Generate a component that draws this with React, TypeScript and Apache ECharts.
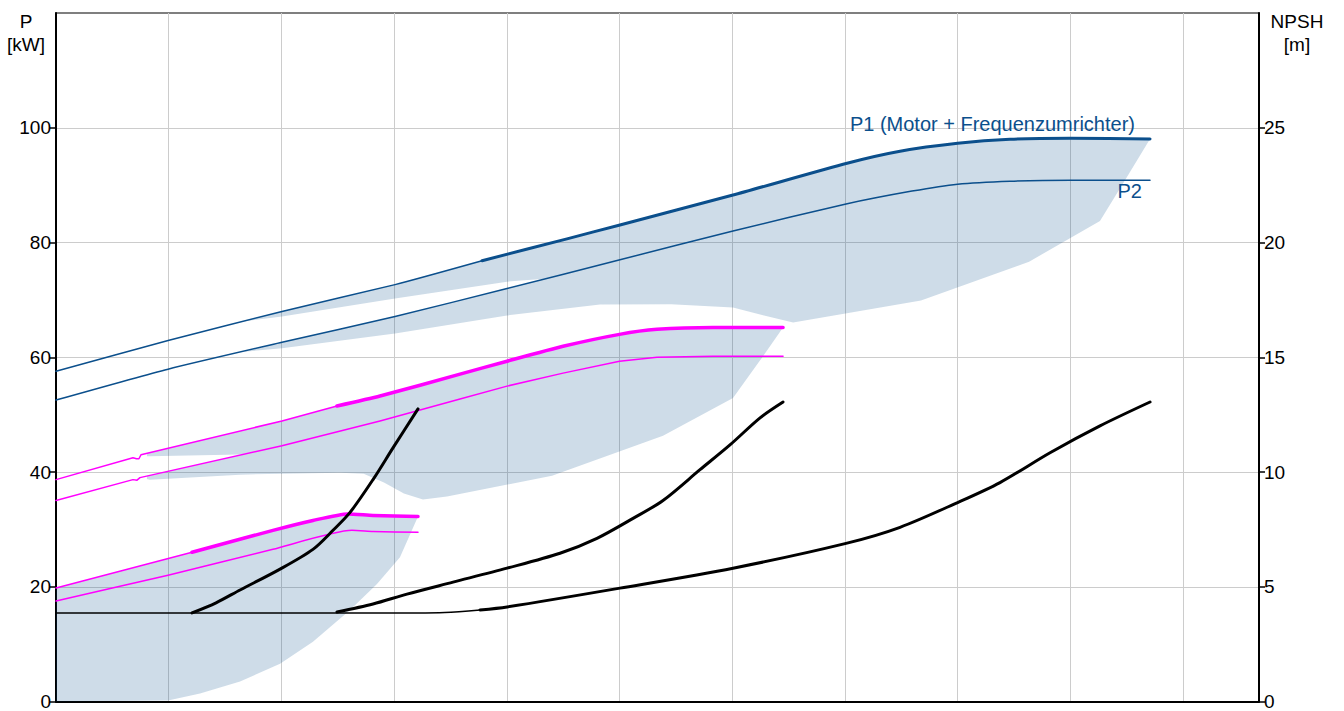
import React, { useEffect, useRef } from "react";
import * as echarts from "echarts";

type Pt = [number, number];

// Flow axis: no labels in the reference, one grid division = 1 unit
const Q_MAX = 10.674;
const Q_INTERVAL = 1;

const pTicks = [0, 20, 40, 60, 80, 100];
const npshTicks = [0, 5, 10, 15, 20, 25];

// ---- Power, full speed (blue) ----
const p1Full: Pt[] = [
  [0, 57.57], [1.003, 62.95], [2.005, 67.98], [3.008, 72.66], [3.78, 76.82],
  [4.534, 80.64], [5.004, 83.06], [6.007, 88.27], [7.019, 93.81], [7.489, 95.9],
  [8.0, 97.28], [8.465, 97.98], [9.0, 98.15], [9.707, 98.06],
];
const p1FullOpStart = 3.78;
const p2Full: Pt[] = [
  [0, 52.54], [0.994, 57.92], [2.005, 62.6], [3.008, 67.11], [4.002, 71.97],
  [5.004, 76.99], [6.007, 82.02], [7.01, 86.71], [7.595, 88.96], [8.0, 90.17],
  [8.465, 90.69], [9.0, 90.87], [9.707, 90.87],
];

// ---- Power, middle speed (magenta) ----
const p1Mid: Pt[] = [
  [0, 38.67], [0.683, 42.49], [0.714, 42.31], [0.736, 42.31], [0.754, 43.01],
  [2.005, 48.9], [2.493, 51.5], [2.875, 53.24], [3.585, 57.05], [4.002, 59.31],
  [4.499, 61.91], [5.0, 63.99], [5.333, 64.86], [5.83, 65.2], [6.451, 65.2],
];
const p1MidOpStart = 2.493;
const p2Mid: Pt[] = [
  [0, 35.03], [0.683, 38.67], [0.719, 38.58], [0.745, 39.02], [2.005, 44.57],
  [2.875, 48.9], [3.585, 52.72], [4.002, 54.97], [4.499, 57.23], [5.0, 59.31],
  [5.333, 60.0], [5.83, 60.17], [6.451, 60.17],
];

// ---- Power, low speed (magenta) ----
const p1Low: Pt[] = [
  [0, 19.77], [1.207, 26.01], [1.925, 29.83], [2.28, 31.56], [2.591, 32.69],
  [2.813, 32.43], [3.212, 32.25],
];
const p1LowOpStart = 1.207;
const p2Low: Pt[] = [
  [0, 17.51], [0.994, 22.02], [1.925, 26.53], [2.626, 29.83], [2.813, 29.65],
  [3.212, 29.48],
];

// ---- NPSH (right axis) ----
const npshLow: Pt[] = [
  [0, 3.86], [1.207, 3.86], [1.42, 4.3], [1.633, 4.86], [1.988, 5.77], [2.28, 6.63],
  [2.458, 7.46], [2.609, 8.24], [2.813, 9.67], [2.99, 11.05], [3.212, 12.75],
];
const npshMid: Pt[] = [
  [0, 3.86], [2.3, 3.86], [2.493, 3.9], [2.813, 4.25], [3.114, 4.68], [3.523, 5.2],
  [4.002, 5.81], [4.472, 6.46], [4.8, 7.11], [5.12, 7.98], [5.386, 8.76], [5.714, 10.1],
  [5.98, 11.18], [6.247, 12.36], [6.451, 13.05],
];
const npshFull: Pt[] = [
  [0, 3.86], [3.2, 3.86], [3.45, 3.88], [3.762, 3.99], [4.002, 4.12], [5.004, 4.94],
  [6.007, 5.81], [7.01, 6.89], [7.489, 7.59], [8.0, 8.67], [8.376, 9.54],
  [8.82, 10.84], [9.263, 12.01], [9.707, 13.05],
];
const npshFullOpStart = 3.762;

// ---- Shaded operating ranges (P axis) ----
const rangeFullP1: Pt[] = [
  [1.659, 66.24], [2.005, 67.98], [3.008, 72.66], [3.78, 76.82], [4.534, 80.64],
  [5.004, 83.06], [6.007, 88.27], [7.019, 93.81], [7.489, 95.9], [8.0, 97.28],
  [8.465, 97.98], [9.0, 98.15], [9.707, 98.06], [9.485, 90.87], [9.0, 90.87],
  [8.465, 90.69], [8.0, 90.17], [7.595, 88.96], [7.01, 86.71], [6.007, 82.02],
  [5.004, 76.99], [4.339, 73.7], [4.002, 73.18], [3.008, 70.23], [2.005, 67.11],
];
const rangeFullP2: Pt[] = [
  [1.659, 60.95], [2.005, 62.6], [3.008, 67.11], [4.002, 71.97], [5.004, 76.99],
  [6.007, 82.02], [7.01, 86.71], [7.595, 88.96], [8.0, 90.17], [8.465, 90.69],
  [9.0, 90.87], [9.485, 90.87], [9.263, 83.76], [8.634, 76.65], [7.675, 69.88],
  [6.54, 66.07], [6.282, 67.28], [6.007, 68.67], [5.457, 69.24], [4.827, 69.19],
  [4.002, 67.28], [3.008, 64.16], [2.005, 61.56],
];
const rangeMidP1: Pt[] = [
  [0.807, 43.25], [2.005, 48.9], [2.493, 51.5], [2.875, 53.24], [3.585, 57.05],
  [4.002, 59.31], [4.499, 61.91], [5.0, 63.99], [5.333, 64.86], [5.83, 65.2],
  [6.451, 65.2], [6.273, 60.17], [5.83, 60.17], [5.333, 60.0], [5.0, 59.31],
  [4.499, 57.23], [4.002, 54.97], [3.585, 52.72], [2.875, 48.9], [2.005, 44.57],
  [1.672, 43.1], [1.517, 43.01], [0.834, 42.75], [0.807, 42.75],
];
const rangeMidP2: Pt[] = [
  [0.807, 39.3], [2.005, 44.57], [2.875, 48.9], [3.585, 52.72], [4.002, 54.97],
  [4.499, 57.23], [5.0, 59.31], [5.333, 60.0], [5.83, 60.17], [6.273, 60.17],
  [6.007, 52.89], [5.386, 46.3], [4.401, 39.36], [3.469, 35.72], [3.256, 35.2],
  [3.087, 36.24], [2.91, 38.15], [2.73, 39.71], [2.52, 39.88], [1.633, 39.54],
  [0.834, 38.67], [0.807, 38.8],
];
const rangeLow: Pt[] = [
  [0, 19.77], [1.207, 26.01], [1.925, 29.83], [2.28, 31.56], [2.591, 32.69],
  [2.813, 32.43], [3.212, 32.25], [3.052, 25.14], [2.848, 20.46], [2.609, 15.95],
  [2.28, 10.4], [1.988, 6.59], [1.633, 3.47], [1.278, 1.39], [0.994, 0.17], [0, 0],
];

const BLUE = "#0b4f8c";
const MAGENTA = "#ff00ff";
const SHADE = "rgba(12,78,140,0.2)";
const FONT = '"Liberation Sans", Arial, sans-serif';
const AXIS_FONT = 19;
const LABEL_FONT = 20;

const before = (pts: Pt[], x: number) => pts.filter((p) => p[0] <= x);
const after = (pts: Pt[], x: number) => pts.filter((p) => p[0] >= x);

const polygon = (pts: Pt[]) => ({
  type: "custom",
  coordinateSystem: "cartesian2d",
  xAxisIndex: 0,
  yAxisIndex: 0,
  silent: true,
  z: 1,
  data: [pts[0]],
  renderItem: (_params: any, api: any) => ({
    type: "polygon",
    shape: { points: pts.map((p) => api.coord(p)) },
    style: { fill: SHADE, stroke: null },
  }),
});

const line = (data: Pt[], color: string, width: number, yAxisIndex = 0, smooth: number | boolean = 0.2) => ({
  type: "line",
  data,
  yAxisIndex,
  symbol: "none",
  showSymbol: false,
  smooth,
  silent: true,
  z: 3,
  lineStyle: { color, width, cap: "round", join: "round" },
  itemStyle: { color },
});

export default function App() {
  const ref = useRef<HTMLDivElement>(null);
  useEffect(() => {
    if (!ref.current) return;
    const chart = echarts.init(ref.current, null, { renderer: "svg" });
    const option: any = {
      animation: false,
      backgroundColor: "#ffffff",
      grid: { left: 56, right: 85, top: 13, bottom: 6, show: true, borderColor: "#000", borderWidth: 1.2 },
      xAxis: {
        type: "value",
        min: 0,
        max: Q_MAX,
        interval: Q_INTERVAL,
        axisLine: { show: true, lineStyle: { color: "#000", width: 2 } },
        axisTick: { show: false },
        axisLabel: { show: false },
        splitLine: { show: true, lineStyle: { color: "#cccccc", width: 1 } },
      },
      yAxis: [
        {
          type: "value",
          min: 0,
          max: 120,
          interval: 20,
          position: "left",
          axisLine: { show: true, lineStyle: { color: "#000", width: 2 } },
          axisTick: { show: true, length: 6, lineStyle: { color: "#000", width: 1.5 }, customValues: pTicks },
          axisLabel: {
            color: "#000",
            fontSize: AXIS_FONT,
            fontFamily: FONT,
            margin: 5,
            customValues: pTicks,
            formatter: (v: number) => (pTicks.includes(v) ? String(v) : ""),
          },
          splitLine: { show: true, lineStyle: { color: "#cccccc", width: 1 } },
        },
        {
          type: "value",
          min: 0,
          max: 30,
          interval: 5,
          position: "right",
          axisLine: { show: true, lineStyle: { color: "#000", width: 2 } },
          axisTick: { show: true, length: 6, lineStyle: { color: "#000", width: 1.5 }, customValues: npshTicks },
          axisLabel: {
            color: "#000",
            fontSize: AXIS_FONT,
            fontFamily: FONT,
            margin: 5,
            customValues: npshTicks,
            formatter: (v: number) => (npshTicks.includes(v) ? String(v) : ""),
          },
          splitLine: { show: false },
        },
      ],
      series: [
        polygon(rangeLow),
        polygon(rangeMidP1),
        polygon(rangeMidP2),
        polygon(rangeFullP1),
        polygon(rangeFullP2),
        // full speed
        line(before(p1Full, p1FullOpStart), BLUE, 1.5),
        line(after(p1Full, p1FullOpStart), BLUE, 3),
        line(p2Full, BLUE, 1.5),
        // middle speed
        line(before(p1Mid, p1MidOpStart), MAGENTA, 1.5, 0, false),
        line(after(p1Mid, p1MidOpStart), MAGENTA, 3.5),
        line(p2Mid, MAGENTA, 1.5, 0, false),
        // low speed
        line(before(p1Low, p1LowOpStart), MAGENTA, 1.5),
        line(after(p1Low, p1LowOpStart), MAGENTA, 3.5),
        line(p2Low, MAGENTA, 1.5),
        // NPSH
        line(before(npshFull, npshFullOpStart), "#000", 1.5, 1, 0.3),
        line(after(npshFull, npshFullOpStart), "#000", 3, 1, 0.3),
        line(after(npshMid, p1MidOpStart), "#000", 3, 1, 0.3),
        line(after(npshLow, p1LowOpStart), "#000", 3, 1, 0.3),
      ],
      graphic: [
        { type: "text", x: 26, y: 21, style: { text: "P", fill: "#000", font: `${AXIS_FONT}px ${FONT}`, textAlign: "center", textVerticalAlign: "middle" } },
        { type: "text", x: 26, y: 44, style: { text: "[kW]", fill: "#000", font: `${AXIS_FONT}px ${FONT}`, textAlign: "center", textVerticalAlign: "middle" } },
        { type: "text", x: 1297, y: 21, style: { text: "NPSH", fill: "#000", font: `${AXIS_FONT}px ${FONT}`, textAlign: "center", textVerticalAlign: "middle" } },
        { type: "text", x: 1297, y: 44, style: { text: "[m]", fill: "#000", font: `${AXIS_FONT}px ${FONT}`, textAlign: "center", textVerticalAlign: "middle" } },
        { type: "text", x: 1135, y: 124, z: 10, style: { text: "P1 (Motor + Frequenzumrichter)", fill: BLUE, font: `${LABEL_FONT}px ${FONT}`, textAlign: "right", textVerticalAlign: "middle" } },
        { type: "text", x: 1142, y: 191, z: 10, style: { text: "P2", fill: BLUE, font: `${LABEL_FONT}px ${FONT}`, textAlign: "right", textVerticalAlign: "middle" } },
      ],
    };
    chart.setOption(option);
    return () => chart.dispose();
  }, []);
  return (
    <div
      ref={ref}
      style={{ position: "absolute", left: 0, top: 0, width: 1344, height: 711 }}
    />
  );
}
